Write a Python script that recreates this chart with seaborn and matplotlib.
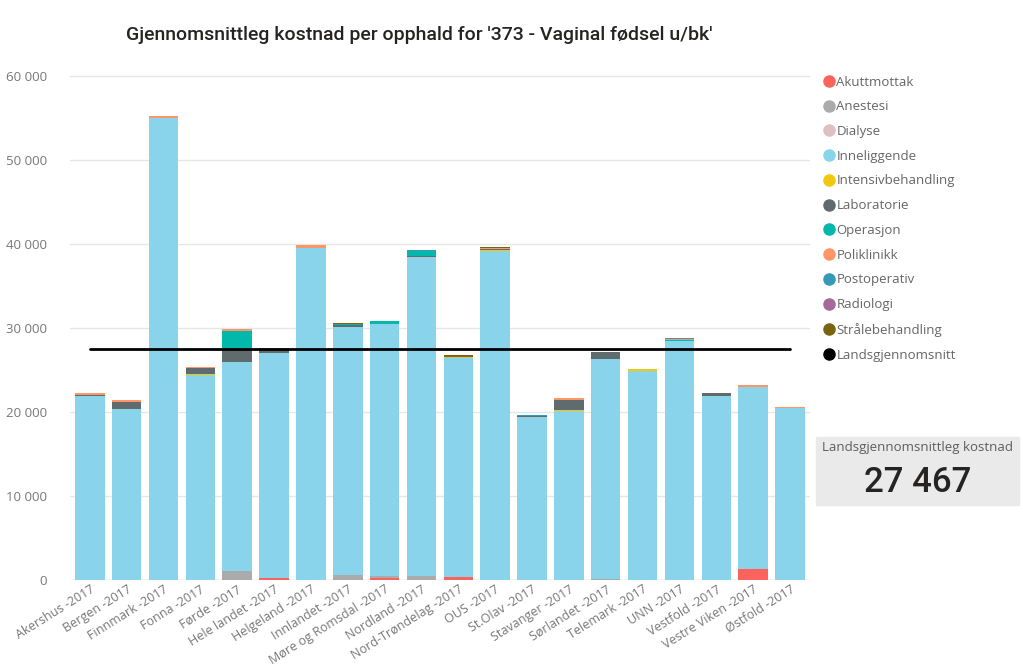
import numpy as np
import pandas as pd
import matplotlib
matplotlib.use("Agg")
import matplotlib.pyplot as plt
from matplotlib.lines import Line2D
from matplotlib.patches import Rectangle
import seaborn as sns

# Data (NOK per stay)
regions = ["Akershus -2017", "Bergen -2017", "Finnmark -2017", "Fonna -2017", "Førde -2017",
           "Hele landet -2017", "Helgeland -2017", "Innlandet -2017", "Møre og Romsdal -2017",
           "Nordland -2017", "Nord-Trøndelag -2017", "OUS -2017", "St.Olav -2017",
           "Stavanger -2017", "Sørlandet -2017", "Telemark -2017", "UNN -2017",
           "Vestfold -2017", "Vestre Viken -2017", "Østfold -2017"]

akuttmottak = [0, 0, 0, 0, 0, 200, 0, 0, 200, 0, 400, 0, 0, 0, 0, 0, 0, 0, 1300, 0]
anestesi = [0, 0, 0, 0, 1100, 0, 0, 600, 300, 500, 0, 0, 0, 0, 100, 0, 0, 0, 0, 0]
dialyse = [0] * 20
inneliggende = [21900, 20400, 55000, 24400, 24900, 26800, 39600, 29500, 30000, 38000,
                26100, 39200, 19400, 20100, 26200, 24900, 28500, 21900, 21700, 20500]
intensivbehandling = [0, 0, 0, 100, 0, 0, 0, 0, 0, 0, 100, 150, 0, 100, 0, 200, 0, 0, 0, 0]
laboratorie = [150, 800, 0, 700, 1400, 500, 0, 300, 0, 100, 100, 100, 100, 1200, 900, 0, 0, 400, 0, 0]
operasjon = [0, 0, 0, 0, 2300, 0, 0, 100, 400, 600, 0, 0, 0, 0, 0, 0, 100, 0, 0, 0]
poliklinikk = [250, 250, 250, 200, 200, 150, 250, 0, 0, 0, 0, 150, 0, 300, 0, 0, 100, 0, 200, 150]
postoperativ = [0, 0, 0, 0, 0, 0, 0, 0, 0, 100, 0, 0, 100, 0, 0, 0, 150, 0, 0, 0]
radiologi = [0] * 20
straalebehandling = [0, 0, 0, 0, 0, 0, 0, 100, 0, 0, 150, 80, 0, 0, 0, 0, 0, 0, 0, 0]
landsgjennomsnitt = 27467

series = [
    ("Akuttmottak", akuttmottak, "#FD625E"),
    ("Anestesi", anestesi, "#ABABAB"),
    ("Dialyse", dialyse, "#DFBFBF"),
    ("Inneliggende", inneliggende, "#8AD4EB"),
    ("Intensivbehandling", intensivbehandling, "#F2C80F"),
    ("Laboratorie", laboratorie, "#5F6B6D"),
    ("Operasjon", operasjon, "#01B8AA"),
    ("Poliklinikk", poliklinikk, "#FE9666"),
    ("Postoperativ", postoperativ, "#3599B8"),
    ("Radiologi", radiologi, "#A66999"),
    ("Strålebehandling", straalebehandling, "#7A6410"),
]

sns.set_style("white")
plt.rcParams["font.family"] = ["Open Sans", "DejaVu Sans"]

fig = plt.figure(figsize=(10.23, 6.69), dpi=100)
ax = fig.add_axes([0.068, 0.133, 0.724, 0.759])

# stacked bars: draw cumulative totals from the top down
cum = np.cumsum([np.array(s[1], dtype=float) for s in series], axis=0)
for i in range(len(series) - 1, -1, -1):
    df = pd.DataFrame({"region": regions, "value": cum[i]})
    sns.barplot(data=df, x="region", y="value", color=series[i][2], width=0.8,
                linewidth=0, saturation=1, ax=ax)

ax.plot(range(len(regions)), [landsgjennomsnitt] * len(regions), color="black", lw=2)

ax.set_ylim(0, 60476)
ax.set_xlim(-0.55, len(regions) - 0.45)
ax.set_yticks(range(0, 60001, 10000))
ax.set_yticklabels([f"{v:,}".replace(",", " ") for v in range(0, 60001, 10000)])
ax.yaxis.grid(True, color="#E6E6E6", lw=1)
ax.set_axisbelow(True)
for s in ax.spines.values():
    s.set_visible(False)
ax.axhline(0, color="#E0E0E0", lw=1, zorder=0)
ax.set_xlabel("")
ax.set_ylabel("")
ax.tick_params(axis="y", colors="#777777", labelsize=9.5, length=0, pad=16)
ax.tick_params(axis="x", colors="#777777", labelsize=9, length=0, pad=2)
plt.setp(ax.get_xticklabels(), rotation=32, ha="right", rotation_mode="anchor")

fig.text(0.41, 0.948, "Gjennomsnittleg kostnad per opphald for '373 - Vaginal fødsel u/bk'",
         ha="center", va="center", fontsize=14, color="#252423", family=["Roboto", "DejaVu Sans"],
         fontweight="medium")

# legend
handles = [Line2D([], [], marker="o", ls="", color=c, markersize=8) for _, _, c in series]
handles.append(Line2D([], [], marker="o", ls="", color="black", markersize=8))
labels = [n for n, _, _ in series] + ["Landsgjennomsnitt"]
leg = fig.legend(handles, labels, loc="upper left", bbox_to_anchor=(0.797, 0.895),
                 frameon=False, fontsize=9.5, labelspacing=0.89, handletextpad=0.0,
                 handlelength=1.2, borderaxespad=0)
for t in leg.get_texts():
    t.set_color("#666666")

# KPI card
fig.patches.append(Rectangle((0.798, 0.245), 0.198, 0.102, transform=fig.transFigure,
                             color="#EAEAEA", zorder=0))
fig.text(0.804, 0.331, "Landsgjennomsnittleg kostnad", fontsize=9.5, color="#605E5C",
         va="center", ha="left")
fig.text(0.897, 0.279, f"{landsgjennomsnitt:,}".replace(",", " "), fontsize=25,
         color="#252423", va="center", ha="center", family=["Roboto", "DejaVu Sans"],
         fontweight="medium")

fig.savefig("out.png", dpi=100)
